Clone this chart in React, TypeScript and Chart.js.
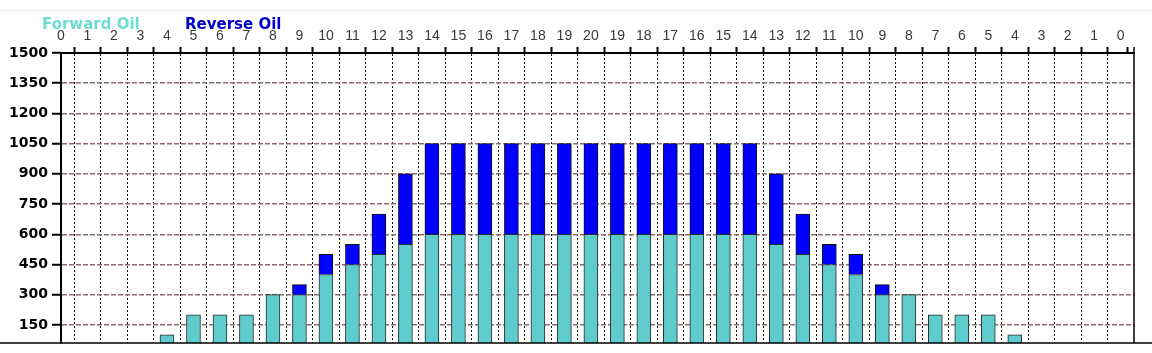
import React, { useEffect, useRef } from 'react';
import { Chart, registerables } from 'chart.js';

Chart.register(...registerables);

// ---- data ----
const categories = [
  '0', '1', '2', '3', '4', '5', '6', '7', '8', '9', '10', '11', '12', '13', '14', '15', '16', '17', '18', '19', '20',
  '19', '18', '17', '16', '15', '14', '13', '12', '11', '10', '9', '8', '7', '6', '5', '4', '3', '2', '1', '0',
];

const forwardOil = [
  0, 0, 0, 0, 100, 200, 200, 200, 300, 300, 400, 450, 500, 550,
  600, 600, 600, 600, 600, 600, 600, 600, 600, 600, 600, 600, 600,
  550, 500, 450, 400, 300, 300, 200, 200, 200, 100, 0, 0, 0, 0,
];

const reverseOil = [
  0, 0, 0, 0, 0, 0, 0, 0, 0, 50, 100, 100, 200, 350,
  450, 450, 450, 450, 450, 450, 450, 450, 450, 450, 450, 450, 450,
  350, 200, 100, 100, 50, 0, 0, 0, 0, 0, 0, 0, 0, 0,
];

const yTicks = [150, 300, 450, 600, 750, 900, 1050, 1200, 1350, 1500];

const seriesNames = ['Forward Oil', 'Reverse Oil'];

const framePlugin = {
  id: 'frame',
  afterDraw(chart: any) {
    const { ctx, chartArea, width } = chart;
    ctx.save();
    ctx.strokeStyle = '#000';
    ctx.lineWidth = 1.5;
    ctx.beginPath();
    ctx.moveTo(chartArea.right, chartArea.top - 6);
    ctx.lineTo(chartArea.right, chartArea.bottom);
    ctx.moveTo(0, chartArea.bottom);
    ctx.lineTo(width, chartArea.bottom);
    ctx.stroke();
    ctx.restore();
  },
};

export default function App() {
  const canvasRef = useRef<HTMLCanvasElement | null>(null);

  useEffect(() => {
    document.body.style.margin = '0';
    const canvas = canvasRef.current;
    if (!canvas) return;
    const lastIndex = categories.length - 1;
    const xMax = lastIndex + 0.5;

    const chart = new Chart(canvas, {
      type: 'bar',
      data: {
        datasets: [
          {
            label: seriesNames[0],
            data: forwardOil.map((v, i) => ({ x: i, y: v })),
            backgroundColor: '#5ecbcc',
            borderColor: '#2a2a2a',
            borderWidth: 1,
            barThickness: 14,
          },
          {
            label: seriesNames[1],
            data: reverseOil.map((v, i) => ({ x: i, y: v })),
            backgroundColor: '#0000ff',
            borderColor: '#111',
            borderWidth: 1,
            barThickness: 14,
          },
        ],
      },
      options: {
        animation: false,
        responsive: false,
        maintainAspectRatio: false,
        layout: { padding: { left: 0, top: 0, right: 18, bottom: 10 } },
        plugins: {
          legend: { display: false },
          tooltip: { enabled: false },
        },
        scales: {
          x: {
            type: 'linear',
            position: 'top',
            min: 0,
            max: xMax,
            stacked: true,
            offset: false,
            afterBuildTicks: (s: any) => {
              s.ticks = [...categories.map((_, i) => ({ value: i })), { value: xMax }];
            },
            afterFit: (s: any) => {
              s.height = 53;
              s.paddingLeft = 0;
              s.paddingRight = 0;
            },
            ticks: {
              autoSkip: false,
              maxRotation: 0,
              minRotation: 0,
              color: '#3a3a3a',
              padding: 2,
              font: { family: '"Liberation Sans", Arial, sans-serif', size: 14 },
              callback: (v: any) => (categories[v as number] !== undefined ? categories[v as number] : ''),
            },
            grid: {
              color: (c: any) => (c.tick && c.tick.value > lastIndex ? 'rgba(0,0,0,0)' : '#111'),
              lineWidth: 1,
              tickLength: 6,
              tickColor: '#000',
              tickWidth: 2,
            },
            border: { display: true, color: '#000', width: 2, dash: [2, 2] },
          },
          y: {
            type: 'linear',
            min: 60,
            max: 1500,
            stacked: true,
            afterBuildTicks: (s: any) => {
              s.ticks = yTicks.map((v) => ({ value: v }));
            },
            afterFit: (s: any) => {
              s.width = 61;
              s.paddingTop = 0;
              s.paddingBottom = 0;
            },
            ticks: {
              color: '#000',
              padding: 4,
              font: { family: '"DejaVu Sans", Verdana, sans-serif', size: 14, weight: 'bold' },
              callback: (v: any) => String(v),
            },
            grid: {
              color: '#8b6f6f',
              lineWidth: 1.5,
              tickLength: 9,
              tickColor: '#000',
              tickWidth: 2,
            },
            border: { display: true, color: '#000', width: 2, dash: [5, 2] },
          },
        },
      },
      plugins: [framePlugin],
    } as any);

    return () => chart.destroy();
  }, []);

  const legendFont = 'bold 15px "DejaVu Sans", Verdana, sans-serif';

  return (
    <div style={{ position: 'relative', width: 1152, height: 353, background: '#fff' }}>
      <div style={{ position: 'absolute', left: 0, top: 10, width: 1152, height: 1, background: '#eeeeee' }} />
      <canvas ref={canvasRef} width={1152} height={353} style={{ display: 'block', width: 1152, height: 353 }} />
      <div
        style={{
          position: 'absolute',
          left: 42,
          top: 17,
          font: legendFont,
          lineHeight: 1,
          color: '#6fdcd2',
          whiteSpace: 'nowrap',
        }}
      >
        {seriesNames[0]}
      </div>
      <div
        style={{
          position: 'absolute',
          left: 185,
          top: 17,
          font: legendFont,
          lineHeight: 1,
          color: '#0000cc',
          whiteSpace: 'nowrap',
        }}
      >
        {seriesNames[1]}
      </div>
    </div>
  );
}
